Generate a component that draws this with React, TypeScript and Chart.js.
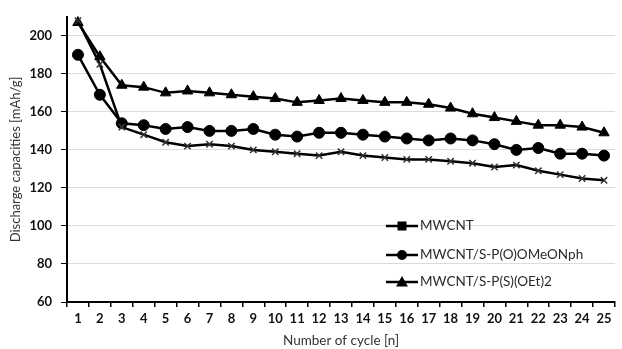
import React, { useEffect, useRef } from 'react';
import { Chart, registerables } from 'chart.js';

Chart.register(...registerables);

const cycles = ['1','2','3','4','5','6','7','8','9','10','11','12','13','14','15','16','17','18','19','20','21','22','23','24','25'];
const seriesLabels = ['MWCNT', 'MWCNT/S-P(O)OMeONph', 'MWCNT/S-P(S)(OEt)2'];
const mwcnt = [208,185,152,148,144,142,143,142,140,139,138,137,139,137,136,135,135,134,133,131,132,129,127,125,124];
const mwcntPO = [190,169,154,153,151,152,150,150,151,148,147,149,149,148,147,146,145,146,145,143,140,141,138,138,137];
const mwcntPS = [207,189,174,173,170,171,170,169,168,167,165,166,167,166,165,165,164,162,159,157,155,153,153,152,149];
const pointStyles = ['crossRot', 'circle', 'triangle'];
const legendMarkers = ['rect', 'circle', 'triangle'];
const yTitle = 'Discharge capacities [mAh/g]';
const xTitle = 'Number of cycle [n]';

const FONT = 'Lato, "Open Sans", sans-serif';

const insideLegend = {
  id: 'insideLegend',
  afterDatasetsDraw(chart: any) {
    const { ctx, chartArea } = chart;
    const x0 = chartArea.right - 229;
    const rows = [chartArea.bottom - 76, chartArea.bottom - 47, chartArea.bottom - 20];
    ctx.save();
    chart.data.datasets.forEach((ds: any, i: number) => {
      const y = rows[i];
      ctx.strokeStyle = '#000';
      ctx.lineWidth = 2.5;
      ctx.beginPath();
      ctx.moveTo(x0, y);
      ctx.lineTo(x0 + 32, y);
      ctx.stroke();
      const cx = x0 + 16;
      ctx.fillStyle = '#000';
      const m = legendMarkers[i];
      ctx.beginPath();
      if (m === 'rect') {
        ctx.rect(cx - 4.5, y - 4.5, 9, 9);
      } else if (m === 'circle') {
        ctx.arc(cx, y, 5, 0, Math.PI * 2);
      } else {
        ctx.moveTo(cx, y - 6);
        ctx.lineTo(cx + 6, y + 4.5);
        ctx.lineTo(cx - 6, y + 4.5);
        ctx.closePath();
      }
      ctx.fill();
      ctx.font = `13.5px ${FONT}`;
      ctx.fillStyle = '#2a2a2a';
      ctx.textBaseline = 'middle';
      ctx.textAlign = 'left';
      ctx.fillText(ds.label, x0 + 34, y);
    });
    ctx.restore();
  },
};

export default function App() {
  const ref = useRef<HTMLCanvasElement>(null);
  useEffect(() => {
    if (!ref.current) return;
    const values = [mwcnt, mwcntPO, mwcntPS];
    const chart = new Chart(ref.current, {
      type: 'line',
      data: {
        labels: cycles,
        datasets: values.map((v, i) => ({
          label: seriesLabels[i],
          data: v,
          borderColor: '#000',
          backgroundColor: i === 0 ? '#fff' : '#000',
          borderWidth: 2.5,
          pointStyle: pointStyles[i] as any,
          pointRadius: i === 0 ? 4.5 : (i === 2 ? 6 : 5.5),
          pointBorderWidth: i === 0 ? 1.5 : 1,
          pointBorderColor: i === 0 ? '#333' : '#000',
          pointBackgroundColor: '#000',
          tension: 0,
          clip: false as any,
        })),
      },
      options: {
        responsive: false,
        animation: false,
        layout: { padding: { top: 14, right: 3, left: 0, bottom: 0 } },
        plugins: {
          legend: { display: false },
          tooltip: { enabled: false },
        },
        scales: {
          x: {
            type: 'category',
            offset: true,
            grid: {
              display: true,
              drawOnChartArea: false,
              drawTicks: true,
              tickLength: 5,
              color: '#000',
              lineWidth: 1.5,
              offset: true,
            },
            border: { color: '#000', width: 2 },
            ticks: {
              color: '#111',
              font: { family: FONT, size: 13, weight: 'bold' },
              padding: 4,
              maxRotation: 0,
              autoSkip: false,
            },
            title: {
              display: true,
              text: xTitle,
              color: '#333',
              font: { family: FONT, size: 13.5 },
              padding: { top: 0, bottom: 0 },
            },
            afterFit: (s: any) => { s.height = 47; },
          },
          y: {
            min: 60,
            max: 210,
            grid: {
              color: '#dcdcdc',
              lineWidth: 1,
              tickColor: '#000',
              tickLength: 6,
            },
            border: { color: '#000', width: 2 },
            ticks: {
              stepSize: 20,
              includeBounds: false,
              color: '#111',
              font: { family: FONT, size: 13, weight: 'bold' },
              padding: 9,
            },
            title: {
              display: true,
              text: yTitle,
              color: '#333',
              font: { family: FONT, size: 13 },
              padding: { top: 8, bottom: 0 },
            },
            afterFit: (s: any) => { s.width = 67; },
          },
        },
      },
      plugins: [insideLegend],
    });
    return () => chart.destroy();
  }, []);
  return (
    <div style={{ position: 'fixed', left: 0, top: 0, width: 622, height: 349, background: '#fff' }}>
      <canvas ref={ref} width={622} height={349} />
    </div>
  );
}
